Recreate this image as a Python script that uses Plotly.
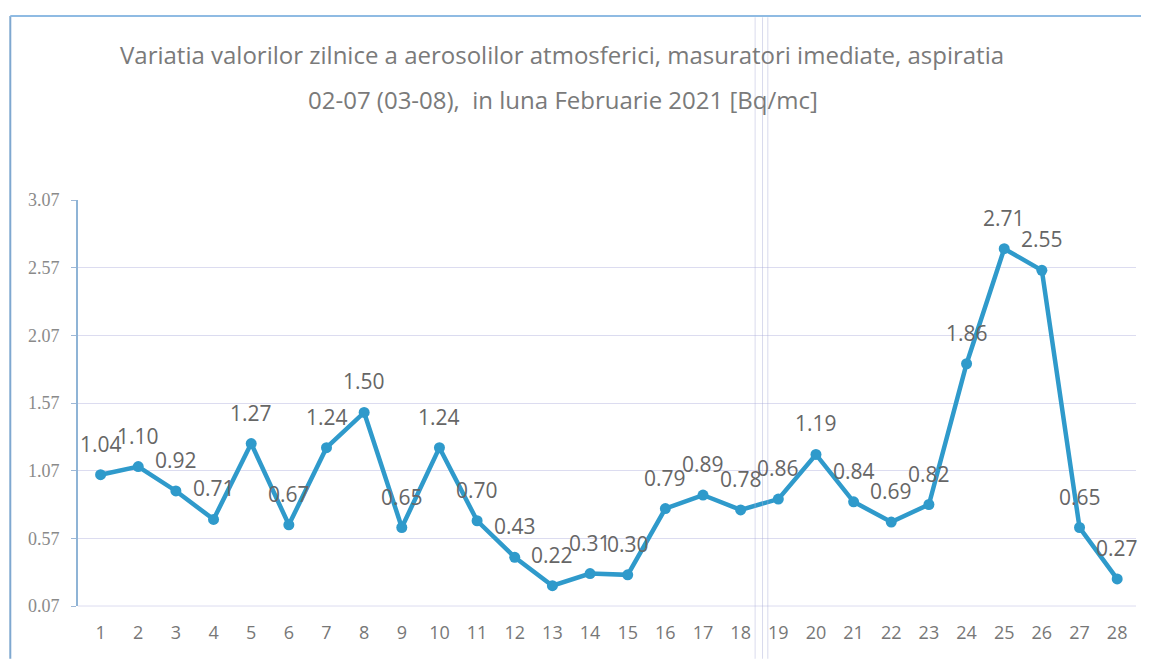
import plotly.graph_objects as go

days = list(range(1, 29))
values = [1.04, 1.10, 0.92, 0.71, 1.27, 0.67, 1.24, 1.50, 0.65, 1.24, 0.70, 0.43, 0.22, 0.31,
          0.30, 0.79, 0.89, 0.78, 0.86, 1.19, 0.84, 0.69, 0.82, 1.86, 2.71, 2.55, 0.65, 0.27]
y_ticks = [0.07, 0.57, 1.07, 1.57, 2.07, 2.57, 3.07]
title_line1 = "Variatia valorilor zilnice a aerosolilor atmosferici, masuratori imediate, aspiratia"
title_line2 = "02-07 (03-08),  in luna Februarie 2021 [Bq/mc]"

LINE = "#2f9acb"
FONT = "Open Sans, sans-serif"

fig = go.Figure()
fig.add_trace(go.Scatter(
    x=days, y=values, mode="lines+markers",
    line=dict(color=LINE, width=4.5),
    marker=dict(color=LINE, size=11),
    hoverinfo="x+y", showlegend=False,
))

annotations = []
for d, v in zip(days, values):
    annotations.append(dict(
        x=d, y=v, xref="x", yref="y", text=f"{v:.2f}", showarrow=False,
        yshift=31, font=dict(family=FONT, size=21, color="#666666"),
    ))
annotations.append(dict(x=0.457, y=1, xref="paper", yref="paper", xanchor="center", yanchor="middle",
                        text=title_line1, showarrow=False, yshift=146,
                        font=dict(family=FONT, size=24, color="#7a7a7a")))
annotations.append(dict(x=0.458, y=1, xref="paper", yref="paper", xanchor="center", yanchor="middle",
                        text=title_line2, showarrow=False, yshift=101,
                        font=dict(family=FONT, size=24, color="#7a7a7a")))

scan = dict(color="rgba(170,175,215,0.45)", width=1)
fig.update_layout(
    width=1141, height=651,
    margin=dict(l=70, r=13, t=192, b=53),
    paper_bgcolor="white", plot_bgcolor="white",
    annotations=annotations,
    xaxis=dict(
        tickmode="array", tickvals=days, ticktext=[str(d) for d in days],
        range=[0.4, 28.5], showgrid=False, zeroline=False, showline=False,
        tickfont=dict(family=FONT, size=18, color="#777777"), ticks="",
        ticklabelstandoff=14,
    ),
    yaxis=dict(
        tickmode="array", tickvals=y_ticks, ticktext=[f"{t:.2f}" for t in y_ticks],
        range=[0.07, 3.07], showgrid=True, gridcolor="#dcdcf0", gridwidth=1,
        zeroline=False, showline=True, linecolor="#8fb4d6", linewidth=2,
        ticks="outside", ticklen=5, tickcolor="#9fb8d6",
        tickfont=dict(family="Liberation Serif, serif", size=18, color="#8a8a8a"),
        ticklabelstandoff=8,
    ),
    shapes=[
        dict(type="line", xref="paper", yref="paper", x0=0, x1=1, y0=0, y1=0,
             line=dict(color="#dcdcf0", width=1)),
        dict(type="line", xref="paper", yref="paper", x0=-0.064, x1=-0.064, y0=-0.13, y1=1.453,
             line=dict(color="#7fa8d0", width=2)),
        dict(type="line", xref="paper", yref="paper", x0=-0.064, x1=1.02, y0=1.453, y1=1.453,
             line=dict(color="#8fbbe3", width=2)),
        dict(type="line", xref="paper", yref="paper", x0=0.640, x1=0.640, y0=-0.13, y1=1.45, line=scan),
        dict(type="line", xref="paper", yref="paper", x0=0.647, x1=0.647, y0=-0.13, y1=1.45, line=scan),
        dict(type="line", xref="paper", yref="paper", x0=0.652, x1=0.652, y0=-0.13, y1=1.45, line=scan),
    ],
)

fig.write_html("out.html")
